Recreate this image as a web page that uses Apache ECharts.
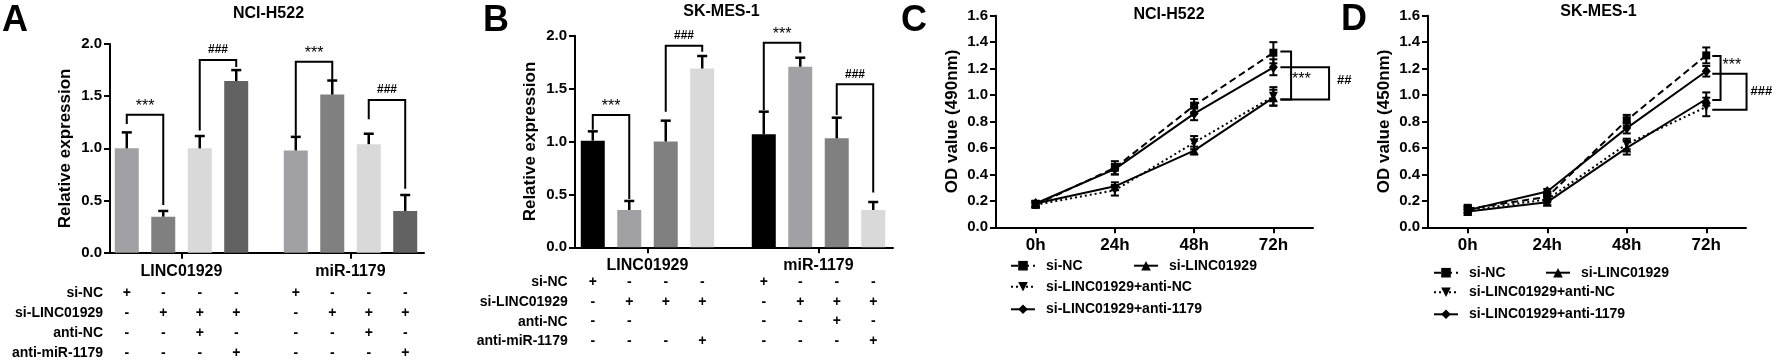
<!DOCTYPE html>
<html><head><meta charset="utf-8">
<script src="https://cdn.jsdelivr.net/npm/echarts@6/dist/echarts.min.js"></script>
<style>html,body{margin:0;padding:0;background:#fff}#c{width:1772px;height:361px}</style>
</head><body><div id="c"></div>
<script>
const FONT = '"Liberation Sans", Arial, sans-serif';

// ---------- Panels A & B (bar charts) ----------
const groups = ['LINC01929', 'miR-1179'];
const tableRowLabels = ['si-NC', 'si-LINC01929', 'anti-NC', 'anti-miR-1179'];
// rows: si-NC, si-LINC01929, anti-NC, anti-miR-1179 ; columns: 8 bars (1 '+', 0 '-', null blank)
const tableA = [
  [1,0,0,0, 1,0,0,0],
  [0,1,1,1, 0,1,1,1],
  [0,0,1,0, 0,0,1,0],
  [0,0,0,1, 0,0,0,1]
];
const tableB = [
  [1,0,0,0, 1,0,0,0],
  [0,1,1,1, 0,1,1,1],
  [0,0,null,null, 0,0,1,0],
  [0,0,0,1, 0,0,0,1]
];
// Panel A (NCI-H522) means and SDs per condition, over groups
const aSiNC = [1.00, 0.98],      aSiNCsd = [0.153, 0.13];
const aSiLINC = [0.345, 1.515],  aSiLINCsd = [0.055, 0.135];
const aAntiNC = [1.00, 1.04],    aAntiNCsd = [0.118, 0.10];
const aAntiMiR = [1.645, 0.40],  aAntiMiRsd = [0.105, 0.153];
// Panel B (SK-MES-1)
const bSiNC = [1.008, 1.068],    bSiNCsd = [0.088, 0.214];
const bSiLINC = [0.353, 1.707],  bSiLINCsd = [0.085, 0.085];
const bAntiNC = [1.00, 1.03],    bAntiNCsd = [0.197, 0.195];
const bAntiMiR = [1.69, 0.353],  bAntiMiRsd = [0.118, 0.075];
// brackets: [group, fromBar, toBar, leftEnd, rightEnd, top]
const aBrackets = [[0,0,1,1.233,0.457,1.323],[0,2,3,1.17,1.78,1.847],[1,0,1,1.12,1.655,1.83],[1,2,3,1.28,0.613,1.463]];
const aBracketText = ['***','###','***','###'];
const bBrackets = [[0,0,1,1.11,0.457,1.25],[0,2,3,1.282,1.849,1.905],[1,0,1,1.298,1.84,1.934],[1,2,3,1.25,0.517,1.54]];
const bBracketText = ['***','###','***','###'];

// ---------- Panels C & D (growth curves) ----------
const times = ['0h','24h','48h','72h'];
const lineNames = ['si-NC','si-LINC01929','si-LINC01929+anti-NC','si-LINC01929+anti-1179'];
const cSiNC = [0.17,0.45,0.92,1.32],     cSiNCsd = [0.02,0.05,0.05,0.08];
const cSiLINC = [0.18,0.31,0.58,0.98],   cSiLINCsd = [0.02,0.03,0.03,0.06];
const cAntiNC = [0.17,0.28,0.64,0.99],   cAntiNCsd = [0.02,0.04,0.05,0.07];
const cAnti1179 = [0.18,0.44,0.86,1.21], cAnti1179sd = [0.02,0.04,0.05,0.06];
const dSiNC = [0.14,0.23,0.81,1.30],     dSiNCsd = [0.03,0.03,0.04,0.06];
const dSiLINC = [0.12,0.19,0.60,0.97],   dSiLINCsd = [0.02,0.02,0.05,0.05];
const dAntiNC = [0.13,0.21,0.63,0.91],   dAntiNCsd = [0.02,0.02,0.04,0.07];
const dAnti1179 = [0.13,0.27,0.75,1.18], dAnti1179sd = [0.02,0.02,0.04,0.04];
// brackets at 72h: [top, bottom, labelY]
const cBrackets = [[1.33,0.967,1.12],[1.21,0.967,1.11]];
const cBracketText = ['***','##'];
const dBrackets = [[1.296,0.962,1.22],[1.162,0.888,1.025]];
const dBracketText = ['***','###'];

// ---------- helpers ----------
const BW = 24, GAP = 0.52;
function barX(api, g, s) {
  const c = api.coord([g, 0])[0];
  const total = BW * 4 + BW * GAP * 3;
  return c - total / 2 + s * BW * (1 + GAP) + BW / 2;
}
const txt = (size, weight) => ({fontSize: size, fontWeight: weight || 'bold', fontFamily: FONT, color: '#000'});

function yAxisVis(max, interval, name, nameGap, idx) {
  return {type:'value', gridIndex: idx, min:0, max:max, interval:interval, name:name, nameLocation:'middle', nameGap:nameGap,
    nameTextStyle: txt(17),
    axisLine:{show:true, lineStyle:{color:'#000', width:2}},
    axisTick:{show:true, length:6, lineStyle:{color:'#000', width:2}},
    axisLabel:{margin:8, ...txt(15), formatter: v => v.toFixed(1)},
    splitLine:{show:false}};
}
function yAxisHidden(max, idx) {
  return {type:'value', gridIndex: idx, min:0, max:max, show:false, splitLine:{show:false}};
}

function barSeries(prefix, names, means, colors, xi, table, dist) {
  return means.map((m, s) => ({
    type:'bar', name: prefix + names[s], xAxisIndex: xi, yAxisIndex: xi, data: m,
    barWidth: BW, barGap: (GAP*100) + '%', itemStyle:{color: colors[s]},
    label:{show:true, position:'bottom', distance: dist, ...txt(14), lineHeight: 19.7,
      formatter: p => table.map(r => { const v = r[p.dataIndex*4 + s]; return v === 1 ? '+' : v === 0 ? '-' : ' '; }).join('\n')},
    emphasis:{disabled:true}, silent:true
  }));
}
function barErrSeries(xi, means, sds) {
  const data = [];
  means.forEach((m, s) => m.forEach((v, g) => data.push([g, v, s, sds[s][g]])));
  return {type:'custom', xAxisIndex:xi, yAxisIndex:xi, data:data, encode:{x:0, y:1}, silent:true, z:5,
    renderItem: (params, api) => {
      const g = api.value(0), m = api.value(1), s = api.value(2), sd = api.value(3);
      const x = barX(api, g, s);
      const y0 = api.coord([g, m])[1], y1 = api.coord([g, m + sd])[1];
      const st = {stroke:'#000', lineWidth:2.5};
      return {type:'group', children:[
        {type:'line', shape:{x1:x, y1:y0, x2:x, y2:y1}, style:st},
        {type:'line', shape:{x1:x-5, y1:y1, x2:x+5, y2:y1}, style:st}]};
    }};
}
function barBracketSeries(xi, brackets, texts) {
  return {type:'custom', xAxisIndex:xi, yAxisIndex:xi, data: brackets.map(b => [b[0], b[5]]), encode:{x:0, y:1}, silent:true, z:5,
    renderItem: (params, api) => {
      const b = brackets[params.dataIndex];
      const x1 = barX(api, b[0], b[1]), x2 = barX(api, b[0], b[2]);
      const yl = api.coord([b[0], b[3]])[1], yr = api.coord([b[0], b[4]])[1], yt = api.coord([b[0], b[5]])[1];
      const t = texts[params.dataIndex];
      const star = t.indexOf('*') >= 0;
      return {type:'group', children:[
        {type:'polyline', shape:{points:[[x1,yl],[x1,yt],[x2,yt],[x2,yr]]}, style:{stroke:'#000', fill:null, lineWidth:2}},
        {type:'text', x:(x1+x2)/2, y: yt - (star ? 0 : 4), style:{text:t, align:'center', verticalAlign:'bottom', fill:'#000',
          fontSize: star ? 16 : 12, fontWeight: star ? 'normal' : 'bold', fontFamily: FONT}}]};
    }};
}

const symDown = 'path://M0,0 L10,0 L5,9 Z';
const lineStyles = [
  {type:[7,4], symbol:'rect', size:8},
  {type:'solid', symbol:'triangle', size:9},
  {type:[2,3], symbol:symDown, size:9},
  {type:'solid', symbol:'diamond', size:[9,11]}
];
function lineSeries(values, xi) {
  return values.map((v, i) => ({
    type:'line', name: lineNames[i], xAxisIndex:xi, yAxisIndex:xi, data:v,
    symbol: lineStyles[i].symbol, symbolSize: lineStyles[i].size, showSymbol:true,
    lineStyle:{color:'#000', width:2, type: lineStyles[i].type}, itemStyle:{color:'#000'},
    emphasis:{disabled:true}, silent:true, z:3
  }));
}
function lineErrSeries(values, sds, xi) {
  const data = [];
  values.forEach((v, i) => v.forEach((m, t) => data.push([t, m, sds[i][t]])));
  return {type:'custom', xAxisIndex:xi, yAxisIndex:xi, data:data, encode:{x:0, y:1}, silent:true, z:4,
    renderItem: (params, api) => {
      const t = api.value(0), m = api.value(1), sd = api.value(2);
      const p0 = api.coord([t, m - sd]), p1 = api.coord([t, m + sd]);
      const x = p0[0], st = {stroke:'#000', lineWidth:2};
      return {type:'group', children:[
        {type:'line', shape:{x1:x, y1:p0[1], x2:x, y2:p1[1]}, style:st},
        {type:'line', shape:{x1:x-4, y1:p0[1], x2:x+4, y2:p0[1]}, style:st},
        {type:'line', shape:{x1:x-4, y1:p1[1], x2:x+4, y2:p1[1]}, style:st}]};
    }};
}
function lineBracketSeries(xi, brackets, texts, dxIn, dxV, dxT) {
  return {type:'custom', xAxisIndex:xi, yAxisIndex:xi, data: brackets.map(b => [3, b[0]]), encode:{x:0, y:1}, silent:true, z:5,
    renderItem: (params, api) => {
      const k = params.dataIndex, b = brackets[k];
      const c = api.coord([3, b[0]]);
      const yb = api.coord([3, b[1]])[1], yl = api.coord([3, b[2]])[1];
      const xi0 = c[0] + dxIn, xv = c[0] + dxV[k];
      const t = texts[k], star = t.indexOf('*') >= 0;
      return {type:'group', children:[
        {type:'polyline', shape:{points:[[xi0,c[1]],[xv,c[1]],[xv,yb],[xi0,yb]]}, style:{stroke:'#000', fill:null, lineWidth:2}},
        {type:'text', x: xv + dxT[k], y: yl, style:{text:t, align:'left', verticalAlign:'middle', fill:'#000',
          fontSize: star ? 16 : 13, fontWeight: star ? 'normal' : 'bold', fontFamily: FONT}}]};
    }};
}
function catAxis(idx, data, opts) {
  return Object.assign({type:'category', gridIndex: idx, data: data,
    axisLine:{show:true, lineStyle:{color:'#000', width:2}},
    axisTick:{show:true, alignWithLabel:true, length:6, lineStyle:{color:'#000', width:2}},
    axisLabel:{show:true, margin:10, ...txt(16)}, splitLine:{show:false}}, opts || {});
}
function legendItem(name, left, cy) {
  return {data:[name], left:left, top: cy - 7, padding:0, itemWidth:24, itemHeight:12, selectedMode:false,
    textStyle:{...txt(14), lineHeight:14, padding:[0,0,0,6]}};
}
function gtext(text, x, y, size, align, extra) {
  return Object.assign({type:'text', x:x, y:y, silent:true,
    style:{text:text, fill:'#000', fontSize:size, fontWeight:'bold', fontFamily:FONT, align: align || 'center', verticalAlign:'middle'}}, extra || {});
}

const colorsA = ['#a1a1a5', '#808080', '#d9d9d9', '#626262'];
const colorsB = ['#000000', '#a1a1a5', '#808080', '#d9d9d9'];
const condNames = ['si-NC','si-LINC01929','anti-NC','anti-miR-1179'];

const option = {
  animation: false,
  backgroundColor: '#fff',
  grid: [
    {left:110, top:44, width:314, height:208.7, outerBoundsMode:'none'},   // 0 A frame
    {left:97, top:44, width:338, height:208.7, outerBoundsMode:'none'},    // 1 A bars
    {left:575, top:35.7, width:318, height:211.6, outerBoundsMode:'none'}, // 2 B frame
    {left:562, top:35.7, width:342, height:211.6, outerBoundsMode:'none'}, // 3 B bars
    {left:996, top:15.7, width:317, height:211.6, outerBoundsMode:'none'}, // 4 C
    {left:1428, top:15.7, width:318, height:211.6, outerBoundsMode:'none'} // 5 D
  ],
  xAxis: [
    catAxis(0, groups, {axisTick:{show:false}, axisLabel:{show:false}}),
    catAxis(1, groups, {axisLine:{show:false}, axisLabel:{show:true, margin:11, ...txt(16)}}),
    catAxis(2, groups, {axisTick:{show:false}, axisLabel:{show:false}}),
    catAxis(3, groups, {axisLine:{show:false}, axisLabel:{show:true, margin:10, ...txt(16)}}),
    catAxis(4, times, {axisLabel:{show:true, margin:10, ...txt(17)}}),
    catAxis(5, times, {axisLabel:{show:true, margin:10, ...txt(17)}})
  ],
  yAxis: [
    yAxisVis(2, 0.5, 'Relative expression', 36.5, 0),
    yAxisHidden(2, 1),
    yAxisVis(2, 0.5, 'Relative expression', 36.5, 2),
    yAxisHidden(2, 3),
    yAxisVis(1.6, 0.2, 'OD value (490nm)', 35, 4),
    yAxisVis(1.6, 0.2, 'OD value (450nm)', 35, 5)
  ],
  legend: [
    legendItem(lineNames[0], 1010, 265.7), legendItem(lineNames[1], 1133, 265.7),
    legendItem(lineNames[2], 1010, 286.7), legendItem(lineNames[3], 1010, 309.3),
    legendItem(lineNames[0], 1433, 272.7), legendItem(lineNames[1], 1545, 272.7),
    legendItem(lineNames[2], 1433, 292.3), legendItem(lineNames[3], 1433, 314.3)
  ],
  series: [
    ...lineSeries([cSiNC, cSiLINC, cAntiNC, cAnti1179], 4),
    ...lineSeries([dSiNC, dSiLINC, dAntiNC, dAnti1179], 5),
    lineErrSeries([cSiNC, cSiLINC, cAntiNC, cAnti1179], [cSiNCsd, cSiLINCsd, cAntiNCsd, cAnti1179sd], 4),
    lineErrSeries([dSiNC, dSiLINC, dAntiNC, dAnti1179], [dSiNCsd, dSiLINCsd, dAntiNCsd, dAnti1179sd], 5),
    lineBracketSeries(4, cBrackets, cBracketText, 7, [17.7, 55.7], [1, 8]),
    lineBracketSeries(5, dBrackets, dBracketText, 6, [14.3, 40.3], [2, 4]),
    ...barSeries('A ', condNames, [aSiNC, aSiLINC, aAntiNC, aAntiMiR], colorsA, 1, tableA, 31),
    ...barSeries('B ', condNames, [bSiNC, bSiLINC, bAntiNC, bAntiMiR], colorsB, 3, tableB, 25),
    barErrSeries(1, [aSiNC, aSiLINC, aAntiNC, aAntiMiR], [aSiNCsd, aSiLINCsd, aAntiNCsd, aAntiMiRsd]),
    barErrSeries(3, [bSiNC, bSiLINC, bAntiNC, bAntiMiR], [bSiNCsd, bSiLINCsd, bAntiNCsd, bAntiMiRsd]),
    barBracketSeries(1, aBrackets, aBracketText),
    barBracketSeries(3, bBrackets, bBracketText)
  ],
  graphic: [
    gtext('A', 2, 21, 36, 'left'), gtext('B', 483, 21, 36, 'left'),
    gtext('C', 901, 21, 36, 'left'), gtext('D', 1341, 20, 36, 'left'),
    gtext('NCI-H522', 268.5, 13.5, 16), gtext('SK-MES-1', 721.5, 12, 16),
    gtext('NCI-H522', 1169, 15, 16), gtext('SK-MES-1', 1598.5, 11.5, 16),
    {type:'text', x:103, y:293.6 - 9.85, silent:true, style:{text: tableRowLabels.join('\n'), fill:'#000', fontSize:14, fontWeight:'bold', fontFamily:FONT, align:'right', verticalAlign:'top', lineHeight:19.7}},
    {type:'text', x:567.7, y:282.3 - 9.85, silent:true, style:{text: tableRowLabels.join('\n'), fill:'#000', fontSize:14, fontWeight:'bold', fontFamily:FONT, align:'right', verticalAlign:'top', lineHeight:19.7}}
  ]
};
const chart = echarts.init(document.getElementById('c'));
chart.setOption(option);
</script></body></html>
